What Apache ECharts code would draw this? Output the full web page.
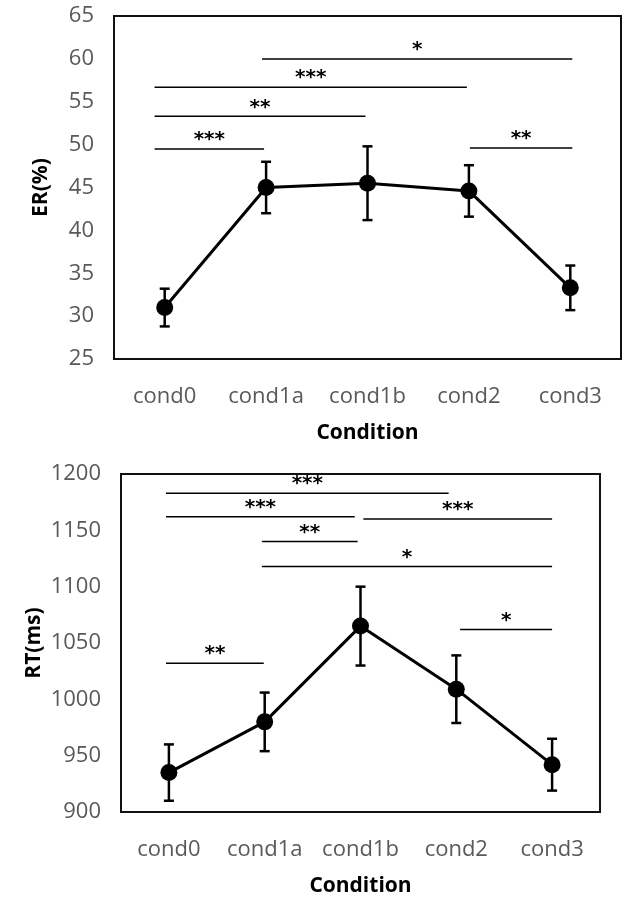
<!DOCTYPE html>
<html>
<head>
<meta charset="utf-8">
<script src="https://cdn.jsdelivr.net/npm/echarts@6/dist/echarts.min.js"></script>
<style>
  html, body { margin: 0; padding: 0; background: #fff; }
  #chart { width: 624px; height: 898px; }
</style>
</head>
<body>
<div id="chart"></div>
<script>
// conditions on x
var conditions = ['cond0', 'cond1a', 'cond1b', 'cond2', 'cond3']

// error rate (%), mean and error bar half-length
var erMean = [31.0, 45.0, 45.5, 44.6, 33.3]
var erErr = [2.2, 3.0, 4.3, 3.0, 2.6]

// reaction time (ms)
var rtMean = [935, 980, 1065, 1009, 942]
var rtErr = [25, 26, 35, 30, 23]

// significance brackets: [from index, to index, level]
var erSig = [[-0.1, 0.98, 49.5], [-0.1, 1.98, 53.3], [-0.1, 2.98, 56.7], [0.96, 4.02, 60.0], [3.01, 4.02, 49.6]]
var erSigText = ['***', '**', '***', '*', '**']
var rtSig = [[-0.03, 2.92, 1183], [-0.03, 1.94, 1162], [2.03, 4.0, 1160], [0.97, 1.97, 1140], [0.97, 4.0, 1118], [3.04, 4.0, 1062], [-0.03, 0.99, 1032]]
var rtSigText = ['***', '***', '***', '**', '*', '*', '**']

var labelFont = 'Open Sans'
var chart = echarts.init(document.getElementById('chart'))

function errData (mean, err) {
  var out = []
  for (var i = 0; i < mean.length; i++) {
    out.push([i, mean[i] - err[i], mean[i] + err[i]])
  }
  return out
}

function renderErr (params, api) {
  var lo = api.coord([api.value(0), api.value(1)])
  var hi = api.coord([api.value(0), api.value(2)])
  var st = { stroke: '#000', lineWidth: 2.5 }
  return {
    type: 'group',
    children: [
      { type: 'line', shape: { x1: lo[0], y1: lo[1], x2: hi[0], y2: hi[1] }, style: st },
      { type: 'line', shape: { x1: lo[0] - 5, y1: lo[1], x2: lo[0] + 5, y2: lo[1] }, style: st },
      { type: 'line', shape: { x1: hi[0] - 5, y1: hi[1], x2: hi[0] + 5, y2: hi[1] }, style: st }
    ]
  }
}

function sigRenderer (texts) {
  return function (params, api) {
    var a = api.coord([api.value(0), api.value(2)])
    var b = api.coord([api.value(1), api.value(2)])
    return {
      type: 'group',
      children: [
        { type: 'line', shape: { x1: a[0], y1: a[1], x2: b[0], y2: b[1] }, style: { stroke: '#000', lineWidth: 1.5 } },
        {
          type: 'text',
          x: (a[0] + b[0]) / 2,
          y: a[1] - 9,
          style: {
            text: texts[params.dataIndex],
            fill: '#000',
            font: 'bold 20px "DejaVu Sans"',
            align: 'center',
            verticalAlign: 'middle'
          }
        }
      ]
    }
  }
}

function catAxis (gridIndex) {
  return {
    type: 'category',
    gridIndex: gridIndex,
    data: conditions,
    boundaryGap: true,
    name: 'Condition',
    nameLocation: 'middle',
    nameGap: 64,
    nameTextStyle: { fontFamily: labelFont, fontWeight: 'bold', fontSize: 21, color: '#000' },
    axisLine: { show: false },
    axisTick: { show: false },
    axisLabel: { interval: 0, hideOverlap: false, fontFamily: labelFont, fontSize: 22, color: '#595959', margin: 27 }
  }
}

function hiddenAxis (gridIndex) {
  return { type: 'value', gridIndex: gridIndex, min: -0.5, max: 4.5, show: false }
}

function valAxis (gridIndex, name, min, max, step, gap) {
  return {
    type: 'value',
    gridIndex: gridIndex,
    min: min,
    max: max,
    interval: step,
    name: name,
    nameLocation: 'middle',
    nameGap: gap,
    nameMoveOverlap: false,
    nameTextStyle: { fontFamily: labelFont, fontWeight: 'bold', fontSize: 21, color: '#000' },
    axisLine: { show: false },
    axisTick: { show: false },
    splitLine: { show: false },
    axisLabel: {
      fontFamily: labelFont,
      fontSize: 22,
      color: '#595959',
      margin: 20,
      formatter: function (v) { return String(v) }
    }
  }
}

chart.setOption({
  animation: false,
  grid: [
    { left: 114, top: 16, width: 507, height: 343, show: true, borderColor: '#111', borderWidth: 2 },
    { left: 121, top: 474, width: 479, height: 339, show: true, borderColor: '#111', borderWidth: 2 }
  ],
  xAxis: [catAxis(0), catAxis(1), hiddenAxis(0), hiddenAxis(1)],
  yAxis: [
    valAxis(0, 'ER(%)', 25, 65, 5, 62),
    valAxis(1, 'RT(ms)', 900, 1200, 50, 76)
  ],
  series: [
    {
      type: 'custom',
      xAxisIndex: 0,
      yAxisIndex: 0,
      renderItem: renderErr,
      data: errData(erMean, erErr),
      z: 2
    },
    {
      type: 'line',
      xAxisIndex: 0,
      yAxisIndex: 0,
      data: erMean,
      symbol: 'circle',
      symbolSize: 17,
      itemStyle: { color: '#000' },
      lineStyle: { color: '#000', width: 3 },
      z: 3
    },
    {
      type: 'custom',
      xAxisIndex: 2,
      yAxisIndex: 0,
      renderItem: sigRenderer(erSigText),
      encode: { x: [0, 1], y: 2 },
      data: erSig,
      z: 4
    },
    {
      type: 'custom',
      xAxisIndex: 1,
      yAxisIndex: 1,
      renderItem: renderErr,
      data: errData(rtMean, rtErr),
      z: 2
    },
    {
      type: 'line',
      xAxisIndex: 1,
      yAxisIndex: 1,
      data: rtMean,
      symbol: 'circle',
      symbolSize: 17,
      itemStyle: { color: '#000' },
      lineStyle: { color: '#000', width: 3 },
      z: 3
    },
    {
      type: 'custom',
      xAxisIndex: 3,
      yAxisIndex: 1,
      renderItem: sigRenderer(rtSigText),
      encode: { x: [0, 1], y: 2 },
      data: rtSig,
      z: 4
    }
  ]
})
</script>
</body>
</html>
